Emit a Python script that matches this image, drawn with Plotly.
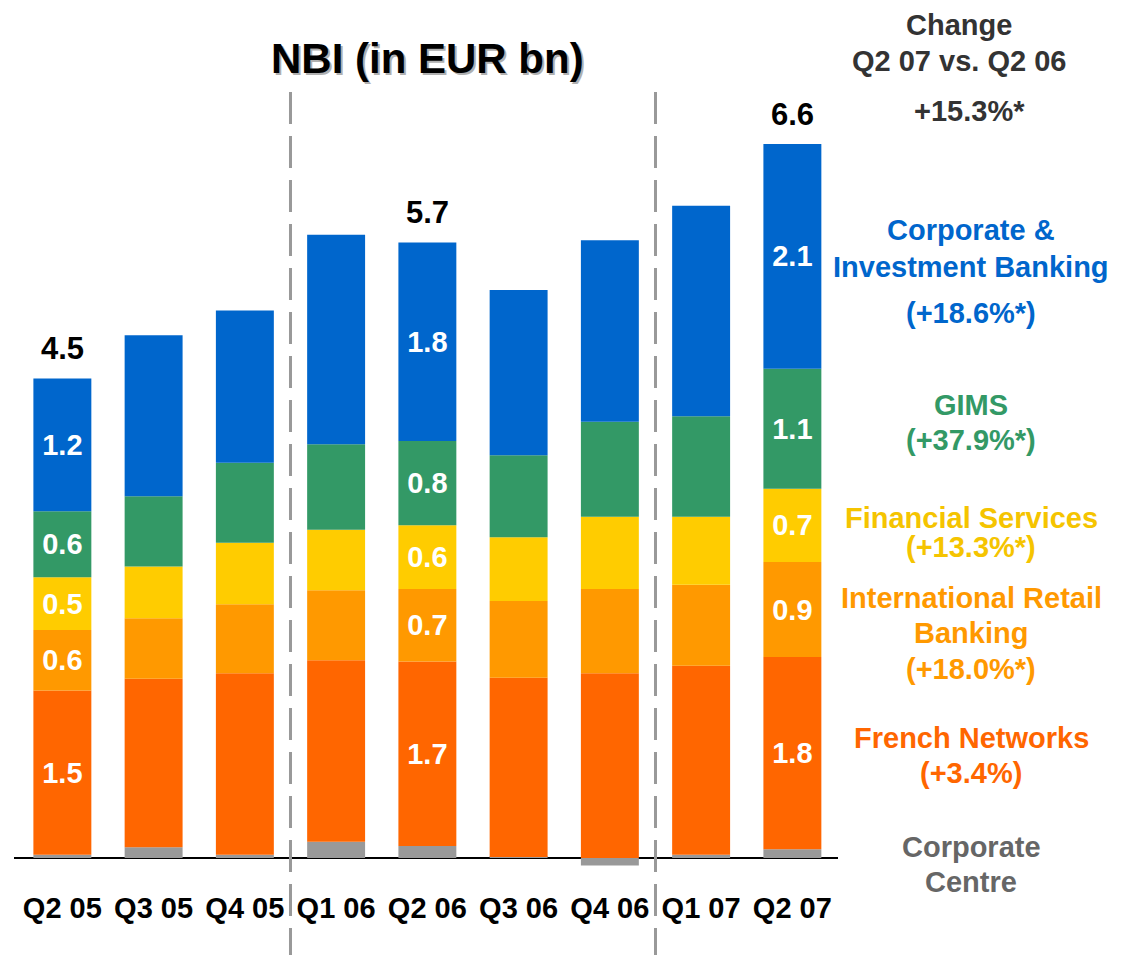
import plotly.graph_objects as go

# NBI by quarter, EUR bn
quarters = ["Q2 05", "Q3 05", "Q4 05", "Q1 06", "Q2 06", "Q3 06", "Q4 06", "Q1 07", "Q2 07"]

corporate_centre = [0.03, 0.10, 0.03, 0.15, 0.11, 0.01, -0.07, 0.03, 0.08]
french_networks = [1.52, 1.56, 1.68, 1.68, 1.71, 1.66, 1.71, 1.75, 1.78]
intl_retail = [0.56, 0.56, 0.64, 0.65, 0.67, 0.71, 0.78, 0.75, 0.88]
financial_services = [0.49, 0.48, 0.57, 0.56, 0.59, 0.59, 0.67, 0.63, 0.68]
gims = [0.61, 0.65, 0.74, 0.79, 0.78, 0.76, 0.88, 0.93, 1.11]
cib = [1.23, 1.49, 1.41, 1.94, 1.84, 1.53, 1.68, 1.95, 2.08]

# quarters whose segments carry a value label
labelled = ["Q2 05", "Q2 06", "Q2 07"]
total_labels = ["4.5", "", "", "", "5.7", "", "", "", "6.6"]

change_header = ["Change", "Q2 07 vs. Q2 06"]
change_total = "+15.3%*"

FONT = "Liberation Sans, Arial, sans-serif"
W, H = 1131, 955
OFF = 8  # page body margin around the plot div
# plot area in page pixels
P_LEFT, P_RIGHT, P_TOP, P_BOTTOM = 14, 838, 40, 888
UNIT = 108  # px per EUR bn
BASE = 858  # baseline pixel row on the page

ML = P_LEFT - OFF
MR = W - (P_RIGHT - OFF)
MT = P_TOP - OFF
MB = H - (P_BOTTOM - OFF)


def px(x):
    return (x - P_LEFT) / (P_RIGHT - P_LEFT)


def py(y):
    return (P_BOTTOM - y) / (P_BOTTOM - P_TOP)


def seg_labels(vals):
    return [f"{v:.1f}" if q in labelled else "" for q, v in zip(quarters, vals)]


series = [
    ("Corporate Centre", corporate_centre, "#999999"),
    ("French Networks", french_networks, "#FF6600"),
    ("International Retail Banking", intl_retail, "#FF9900"),
    ("Financial Services", financial_services, "#FFCC00"),
    ("GIMS", gims, "#339966"),
    ("Corporate & Investment Banking", cib, "#0066CC"),
]

fig = go.Figure()
for name, vals, color in series:
    show = name != "Corporate Centre"
    fig.add_trace(go.Bar(
        x=quarters,
        y=vals,
        name=name,
        marker=dict(color=color, line=dict(width=0)),
        text=seg_labels(vals) if show else None,
        textposition="inside" if show else "none",
        insidetextanchor="middle",
        textangle=0,
        textfont=dict(family=FONT, size=29, color="white", weight="bold"),
        showlegend=False,
    ))

# totals above the bars
totals = [sum(v for v in vals if v > 0) for vals in zip(*[s[1] for s in series])]
for q, t, lab in zip(quarters, totals, total_labels):
    if lab:
        fig.add_annotation(
            x=q, y=t, text=f"<b>{lab}</b>", showarrow=False,
            yanchor="middle", yshift=30,
            font=dict(family=FONT, size=31, color="black"),
        )

# dashed separators between years
for xpos in [2.5, 6.5]:
    fig.add_shape(
        type="line", xref="x", yref="paper",
        x0=xpos, x1=xpos, y0=py(960), y1=py(92),
        line=dict(color="#999999", width=3, dash="32px,12px"),
    )

# title with a soft shadow
fig.add_annotation(
    x=px(429), y=py(35), xref="paper", yref="paper",
    text="<b>NBI (in EUR bn)</b>", showarrow=False,
    font=dict(family=FONT, size=42, color="#B0B0B0"),
)
fig.add_annotation(
    x=px(427), y=py(33), xref="paper", yref="paper",
    text="<b>NBI (in EUR bn)</b>", showarrow=False,
    font=dict(family=FONT, size=42, color="black"),
)

# right-hand commentary
right_text = [
    (change_header[0], 25, "#333333", 959),
    (change_header[1], 61, "#333333", 959),
    (change_total, 111, "#333333", 970),
    ("Corporate &", 230, "#0066CC", 971),
    ("Investment Banking", 267, "#0066CC", 971),
    ("(+18.6%*)", 313, "#0066CC", 971),
    ("GIMS", 405, "#339966", 971),
    ("(+37.9%*)", 440, "#339966", 971),
    ("Financial Services", 518, "#F5C400", 971),
    ("(+13.3%*)", 547, "#F5C400", 971),
    ("International Retail", 598, "#FF9900", 971),
    ("Banking", 633, "#FF9900", 971),
    ("(+18.0%*)", 669, "#FF9900", 971),
    ("French Networks", 738, "#FF6600", 971),
    ("(+3.4%)", 773, "#FF6600", 971),
    ("Corporate", 847, "#666666", 971),
    ("Centre", 882, "#666666", 971),
]
for txt, ypx, color, xpx in right_text:
    fig.add_annotation(
        x=px(xpx), y=py(ypx), xref="paper", yref="paper",
        text=f"<b>{txt}</b>", showarrow=False,
        xanchor="center", yanchor="middle",
        font=dict(family=FONT, size=29, color=color),
    )

fig.update_layout(
    width=W, height=H,
    barmode="relative",
    bargap=0.365,
    paper_bgcolor="white",
    plot_bgcolor="white",
    margin=dict(l=ML, r=MR, t=MT, b=MB),
    font=dict(family=FONT),
    xaxis=dict(
        range=[-0.53, 8.5],
        showgrid=False, showline=False, ticks="",
        tickfont=dict(family=FONT, size=29, color="black", weight="bold"),
    ),
    yaxis=dict(
        range=[(BASE - P_BOTTOM) / UNIT, (BASE - P_TOP) / UNIT],
        showgrid=False, showticklabels=False, ticks="",
        zeroline=True, zerolinecolor="black", zerolinewidth=1.5,
    ),
)

fig.write_html("out.html")
